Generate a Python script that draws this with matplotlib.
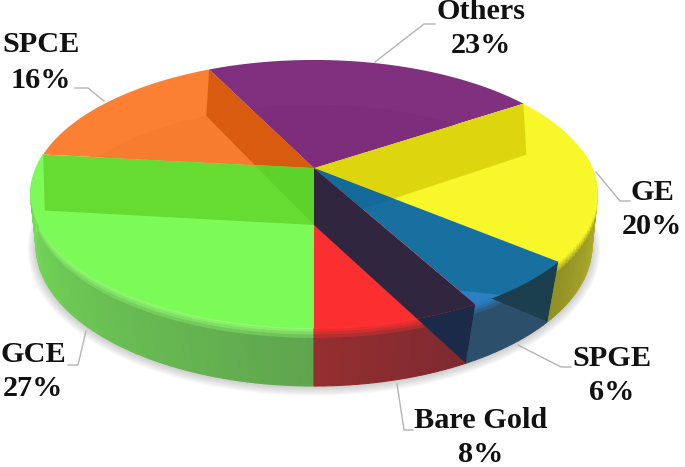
import numpy as np
import matplotlib
matplotlib.use("Agg")
import matplotlib.pyplot as plt
from matplotlib.colors import to_rgb
from matplotlib.patches import Polygon

# Chart data; the labels show them rounded
labels = ["Others", "GE", "SPGE", "Bare Gold", "GCE", "SPCE"]
values = [23.0, 20.3, 6.0, 8.0, 26.7, 16.0]

# Slice colours
top_colors = ["#81307F", "#F7F72A", "#1870A0", "#FB2F2F", "#7CFB58", "#FB8033"]
label_pos = [(481, 11.5), (652, 192), (612, 358), (481, 421), (33, 354), (41, 45)]
line_gap = [34, 35, 35, 34, 35, 35]

leaders = [
    [(435, 24), (424, 24), (375, 62)],
    [(630, 201), (620, 201), (596, 172)],
    [(571, 367), (561, 367), (518, 345)],
    [(413, 430), (404, 430), (397, 384)],
    [(68, 365), (78, 365), (86, 331)],
    [(75, 88), (88, 88), (104, 101)],
]

# Perspective of the disc, in pixels: apex x/y, half width, half depth, foreshortening
TOP = (314, 168, 278, 129, 0.194)
BOTTOM = (314, 225, 275, 137.6, 0.1455)


def project(theta, disc):
    """theta in degrees, clockwise from the front of the pie."""
    cx, cy, a, b, k = disc
    t = np.radians(theta)
    u, v = -np.sin(t), -np.cos(t)
    w = 1 + k * v
    return cx + a * u / w, cy - b * v / w


def arc(t0, t1, disc):
    n = max(int(abs(t1 - t0) / 1.5), 2) + 1
    x, y = project(np.linspace(t0, t1, n), disc)
    return np.column_stack([x, y])


def mix(c0, c1, f):
    c0, c1 = np.array(to_rgb(c0)), np.array(to_rgb(c1))
    return tuple(c0 + (c1 - c0) * f)


# Slice start angles: the GCE slice starts at the front, going clockwise
order = [4, 5, 0, 1, 2, 3]
bounds = {}
angle = 0.0
for i in order:
    sweep = values[i] / sum(values) * 360
    bounds[i] = (angle, angle + sweep)
    angle += sweep

fig = plt.figure(figsize=(6.85, 4.67), dpi=100)
ax = fig.add_axes([0, 0, 1, 1])
ax.set_xlim(0, 685)
ax.set_ylim(467, 0)
ax.axis("off")

# Soft shadow below the disc
base = arc(0, 360, BOTTOM)
for grow in np.linspace(9, 1, 9):
    cx, cy = 314, 200
    pts = np.column_stack([cx + (base[:, 0] - cx) * (1 + grow / 290), cy + (base[:, 1] - cy) * (1 + grow / 190) + 1])
    ax.add_patch(Polygon(pts, closed=True, fc="#808080", ec="none", alpha=0.045, zorder=1))

# Outer side of the disc
side_styles = {
    4: ("#5FA54E", "#78E55A"),
    3: ("#7C2A30", "#962E30"),
    2: ("#2C4F6C", "#2C4F6C"),
    1: ("#C8C82A", "#8F8F26"),
}
rim_colors = {4: "#92FB72", 3: "#FB2F2F", 2: "#2A80C0", 1: "#F7F72A"}
levels = [0, 0.03, 0.07, 0.12, 0.18, 1]
for i, (c_start, c_end) in side_styles.items():
    t0, t1 = bounds[i]
    if i == 1:
        t0 = max(t0, 262)
    steps = np.arange(t0, t1, 1.5).tolist() + [t1]
    for a0, a1 in zip(steps[:-1], steps[1:]):
        side_c = mix(c_start, c_end, (a0 - t0) / (t1 - t0))
        p_top = np.array([project(a0, TOP), project(a1, TOP)])
        p_bot = np.array([project(a0, BOTTOM), project(a1, BOTTOM)])
        for j in range(len(levels) - 1):
            l0, l1 = levels[j], levels[j + 1]
            upper = p_top + (p_bot - p_top) * l0
            lower = p_top + (p_bot - p_top) * l1
            c = mix(rim_colors[i], side_c, min(l0 / 0.18, 1))
            ax.add_patch(Polygon(np.vstack([upper, lower[::-1]]), closed=True, fc=c, ec=c, lw=0.8, zorder=2))

# Top faces
slices = {}
for i in order:
    t0, t1 = bounds[i]
    pts = np.vstack([[TOP[0], TOP[1]], arc(t0, t1, TOP)])
    slices[i] = Polygon(pts, closed=True, fc=top_colors[i], ec="none", zorder=3)
    ax.add_patch(slices[i])


def wall(theta):
    r_top = project(theta, TOP)
    r_bot = project(theta, BOTTOM)
    return np.array([TOP[:2], r_top, r_bot, BOTTOM[:2]])


def see_through(pts, color, clip, zorder=4):
    p = Polygon(pts, closed=True, fc=color, ec="none", zorder=zorder)
    ax.add_patch(p)
    p.set_clip_path(clip)


# Far edge of the bottom seen through the back slices
disc_pts = arc(0, 360, BOTTOM)
see_through(disc_pts, "#7D2D7B", slices[0])
see_through(disc_pts, "#F67C30", slices[5])

# Inner walls seen through the glass faces
see_through(wall(bounds[5][1]), "#D95B10", slices[5], 5)
see_through(wall(bounds[4][1]), "#66DC32", slices[4], 5)
see_through(wall(bounds[5][1]), "#5CD22A", slices[4], 6)
see_through(wall(bounds[0][1]), "#DDD60F", slices[1], 5)
see_through(wall(bounds[0][1]), "#146A9A", slices[2], 5)
see_through(wall(bounds[3][0]), "#30263F", slices[3], 5)

# Walls seen on the outer side
spge_t0, spge_t1 = bounds[2]
spge_side = Polygon(np.vstack([arc(spge_t0, spge_t1, TOP), arc(spge_t1, spge_t0, BOTTOM)]), closed=True, fc="none", ec="none")
ax.add_patch(spge_side)
see_through(wall(spge_t0), "#1B3F4E", spge_side, 3)
gold_t0, gold_t1 = bounds[3]
gold_side = Polygon(np.vstack([arc(gold_t0, gold_t1, TOP), arc(gold_t1, gold_t0, BOTTOM)]), closed=True, fc="none", ec="none")
ax.add_patch(gold_side)
see_through(wall(gold_t0), "#1A2A48", gold_side, 3)

# Small highlight where the blue slice meets the navy wall
tip = np.array(project(spge_t1, TOP))
apex = np.array(TOP[:2])
hl = np.array([apex + (tip - apex) * 0.9, tip, project(spge_t1 - 5.5, TOP)])
ax.add_patch(Polygon(hl, closed=True, fc="#2A80C0", ec="none", zorder=7))

# Leader lines and labels
for line in leaders:
    xs, ys = zip(*line)
    ax.plot(xs, ys, color="#B4B4B4", lw=1, zorder=8)

for name, val, (x, y), gap in zip(labels, values, label_pos, line_gap):
    ax.text(x, y, name, ha="center", va="center", family="Liberation Serif",
            fontweight="bold", fontsize=21.8, color="#111111", zorder=9)
    ax.text(x, y + gap, f"{round(val)}%", ha="center", va="center", family="Liberation Serif",
            fontweight="bold", fontsize=21.8, color="#111111", zorder=9)

fig.savefig("out.png", dpi=100)
